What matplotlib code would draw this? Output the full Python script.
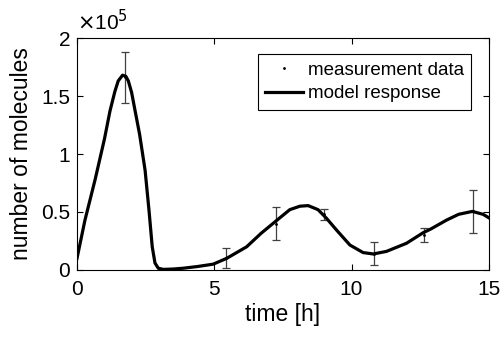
import numpy as np
import matplotlib.pyplot as plt

plt.rcParams['font.family'] = ['Liberation Sans', 'DejaVu Sans']

# measurement data (units of 1e5 molecules)
t_meas = [1.75, 5.42, 7.24, 9.0, 10.81, 12.63, 14.42]
y_meas = [1.66, 0.105, 0.40, 0.48, 0.14, 0.30, 0.505]
y_err = [0.22, 0.085, 0.145, 0.05, 0.10, 0.06, 0.185]

# model response
t_model = [0.0, 0.29, 0.66, 1.0, 1.2, 1.38, 1.5, 1.66, 1.78, 1.87, 1.99, 2.11,
           2.28, 2.48, 2.62, 2.74, 2.84, 2.96, 3.14, 3.5, 3.87, 4.4, 4.96, 5.45,
           6.18, 6.7, 7.21, 7.75, 8.12, 8.42, 8.78, 9.09, 9.45, 9.94, 10.42, 10.79,
           11.27, 12.0, 12.6, 12.9, 13.46, 13.9, 14.4, 14.79, 15.0]
y_model = [0.10, 0.43, 0.78, 1.13, 1.37, 1.54, 1.63, 1.68, 1.67, 1.63, 1.53, 1.38,
           1.17, 0.86, 0.52, 0.20, 0.06, 0.015, 0.005, 0.008, 0.015, 0.03, 0.05, 0.10,
           0.20, 0.315, 0.415, 0.52, 0.55, 0.555, 0.52, 0.445, 0.345, 0.215, 0.15, 0.138,
           0.16, 0.23, 0.32, 0.355, 0.43, 0.48, 0.505, 0.48, 0.45]

fig = plt.figure(figsize=(5.01, 3.40), dpi=100)
ax = fig.add_axes([0.1537, 0.206, 0.822, 0.682])

ax.errorbar(t_meas, y_meas, yerr=y_err, fmt='none', ecolor='#404040',
            elinewidth=0.9, capsize=3, capthick=0.9)
ax.plot(t_meas, y_meas, '.', color='black', markersize=2, label='measurement data')
ax.plot(t_model, y_model, color='black', linewidth=2.3, solid_joinstyle='round',
        label='model response')

ax.set_xlim(0, 15)
ax.set_ylim(0, 2)
ax.set_xticks([0, 5, 10, 15])
ax.set_yticks([0, 0.5, 1, 1.5, 2])
ax.set_yticklabels(['0', '0.5', '1', '1.5', '2'])
ax.tick_params(direction='in', length=4, labelsize=15, top=True, right=True)
ax.tick_params(axis='x', pad=7)
ax.tick_params(axis='y', pad=5)
ax.text(0.0, 1.015, r'$\times$10$^5$', transform=ax.transAxes, fontsize=15,
        ha='left', va='bottom')

ax.set_xlabel('time [h]', fontsize=16.5, labelpad=3)
ax.set_ylabel('number of molecules', fontsize=16.5, labelpad=6)

leg = ax.legend(loc='upper left', bbox_to_anchor=(0.439, 0.931, 0.517, 0.0), mode='expand',
                fontsize=13.5, fancybox=False, edgecolor='black', framealpha=1,
                borderpad=0.4, handlelength=2.0, handletextpad=0.3, labelspacing=0.35,
                borderaxespad=0)
leg.get_frame().set_linewidth(0.8)

plt.savefig('out.png', dpi=100)
